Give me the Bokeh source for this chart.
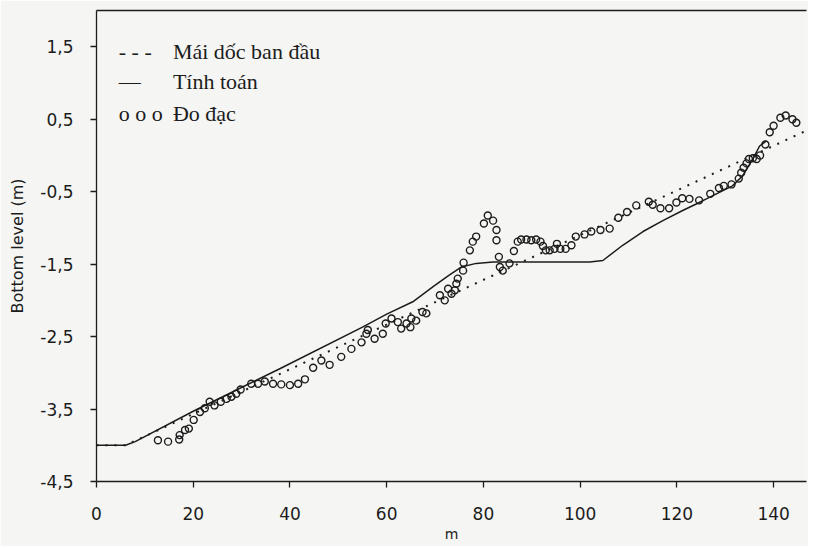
from bokeh.plotting import figure
from bokeh.models import FixedTicker, LinearAxis, Label
from bokeh.embed import file_html
from bokeh.resources import INLINE

# ---- data ----
x_ticks = [0, 20, 40, 60, 80, 100, 120, 140]
y_ticks = [-4.5, -3.5, -2.5, -1.5, -0.5, 0.5, 1.5]
y_tick_labels = ["-4,5", "-3,5", "-2,5", "-1,5", "-0,5", "0,5", "1,5"]

# initial slope (dotted)
initial_x = [0, 6, 148]
initial_y = [-4.0, -4.0, 0.38]

# computed profile (solid)
computed_x = [0, 6, 8, 20, 38, 55, 60, 65.4, 69.6, 73, 75.4, 78.5, 82, 102, 104.7,
              108.8, 113, 117.1, 121.2, 124, 126.1, 131.5, 133.6, 135.7, 137.1, 138.5]
computed_y = [-4.0, -4.0, -3.95, -3.53, -2.94, -2.37, -2.19, -2.02, -1.81, -1.65,
              -1.54, -1.49, -1.47, -1.47, -1.45, -1.24, -1.05, -0.90, -0.76, -0.67,
              -0.60, -0.42, -0.28, -0.05, 0.13, 0.2]

# measured profile (circles)
measured_x = [12.7, 14.8, 17.1, 17.2, 18.3, 19.1, 20.1, 21.4, 22.4, 23.4, 24.4, 25.7,
              26.9, 27.9, 28.9, 29.8, 32.0, 33.4, 34.8, 36.5, 38.2, 40.0, 41.7, 43.1,
              44.8, 46.5, 48.2, 50.6, 52.7, 54.8, 55.8, 56.1, 57.5, 59.2, 59.8, 61.0,
              62.3, 63.0, 64.1, 64.9, 65.1, 66.1, 67.4, 68.2, 71.0, 72.0, 72.7, 73.4,
              74.1, 74.4, 74.7, 75.8, 75.9, 77.2, 77.8, 78.5, 80.1, 80.9, 82.0, 82.7,
              82.7, 83.2, 83.4, 84.0, 85.4, 86.3, 87.1, 87.8, 88.9, 89.9, 90.9, 91.8,
              92.3, 92.9, 93.7, 94.7, 95.2, 95.9, 97.0, 98.2, 99.1, 100.9, 102.3, 104.2,
              106.1, 107.9, 109.7, 111.6, 114.2, 115.0, 116.6, 118.4, 119.9, 121.1,
              122.6, 124.6, 126.9, 128.7, 129.7, 131.3, 132.8, 133.3, 133.8, 134.4,
              134.9, 135.7, 136.5, 137.2, 138.3, 139.2, 140.0, 141.4, 142.5, 143.9,
              144.7]
measured_y = [-3.93, -3.95, -3.92, -3.86, -3.79, -3.77, -3.65, -3.54, -3.49, -3.40,
              -3.45, -3.40, -3.36, -3.33, -3.29, -3.23, -3.15, -3.15, -3.12, -3.15,
              -3.16, -3.17, -3.15, -3.09, -2.93, -2.83, -2.89, -2.78, -2.67, -2.58,
              -2.46, -2.41, -2.53, -2.46, -2.32, -2.25, -2.30, -2.39, -2.32, -2.37,
              -2.25, -2.28, -2.16, -2.18, -1.93, -2.00, -1.84, -1.91, -1.86, -1.77,
              -1.70, -1.59, -1.48, -1.31, -1.19, -1.12, -0.94, -0.83, -0.90, -1.03,
              -1.17, -1.40, -1.54, -1.59, -1.49, -1.32, -1.19, -1.16, -1.16, -1.17,
              -1.16, -1.19, -1.25, -1.31, -1.31, -1.29, -1.22, -1.29, -1.29, -1.24,
              -1.12, -1.09, -1.05, -1.03, -1.01, -0.86, -0.78, -0.69, -0.64, -0.68,
              -0.73, -0.73, -0.65, -0.59, -0.60, -0.62, -0.53, -0.45, -0.42, -0.40,
              -0.32, -0.24, -0.17, -0.11, -0.05, -0.04, -0.05, 0.00, 0.15, 0.32,
              0.41, 0.52, 0.55, 0.50, 0.45]

legend_symbols = ["- - -", "\u2014", "o o o"]
legend_texts = ["M\u00e1i d\u1ed1c ban \u0111\u1ea7u", "T\u00ednh to\u00e1n", "\u0110o \u0111\u1ea1c"]

INK = "#1c1c1c"
PAPER = "#f5f5f3"

p = figure(width=808, height=546, x_range=(0, 146.8), y_range=(-4.5, 2.0),
           output_backend="svg", toolbar_location=None,
           min_border_left=96, min_border_top=10, min_border_right=2, min_border_bottom=65,
           background_fill_color=PAPER, border_fill_color=PAPER)
p.outline_line_color = None
p.grid.visible = False

# lines and points
p.line(initial_x, initial_y, line_color=INK, line_width=2, line_dash="2 7")
p.line(computed_x, computed_y, line_color=INK, line_width=1.5)
p.scatter(measured_x, measured_y, marker="circle", size=7, fill_color=None,
          line_color=INK, line_width=1.4)

# axes
xa = p.xaxis[0]
xa.ticker = FixedTicker(ticks=x_ticks)
xa.axis_label = "m"
ya = p.yaxis[0]
ya.ticker = FixedTicker(ticks=y_ticks)
ya.major_label_overrides = dict(zip(y_ticks, y_tick_labels))
ya.axis_label = "Bottom level (m)"

for ax in (xa, ya):
    ax.axis_line_color = INK
    ax.axis_line_width = 1.3
    ax.major_tick_line_color = INK
    ax.major_tick_line_width = 1.3
    ax.major_tick_in = 0
    ax.major_tick_out = 6
    ax.minor_tick_line_color = None
    ax.major_label_text_font = "DejaVu Sans"
    ax.major_label_text_font_size = "17px"
    ax.major_label_text_color = INK
    ax.axis_label_text_font = "DejaVu Sans"
    ax.axis_label_text_font_style = "normal"
    ax.axis_label_text_color = INK

xa.major_label_standoff = 19
xa.axis_label_text_font_size = "14px"
xa.axis_label_standoff = 3
ya.major_label_standoff = 17
ya.axis_label_text_font_size = "16px"
ya.axis_label_standoff = 10

# top border line
top = LinearAxis(ticker=FixedTicker(ticks=[]), major_label_text_font_size="0px",
                 major_tick_in=0, major_tick_out=0, minor_tick_line_color=None,
                 axis_line_color=INK, axis_line_width=1.3, major_label_standoff=0)
p.add_layout(top, "above")

# legend written as text, as in the original figure
sym_x = 4.6
txt_x = 15.8
rows_y = [1.44, 1.02, 0.58]
for s, t, yy in zip(legend_symbols, legend_texts, rows_y):
    p.add_layout(Label(x=sym_x, y=yy, text=s, text_font="Liberation Serif",
                       text_font_size="22px", text_color=INK, text_baseline="alphabetic"))
    p.add_layout(Label(x=txt_x, y=yy, text=t, text_font="Liberation Serif",
                       text_font_size="22px", text_color=INK, text_baseline="alphabetic"))

open("out.html", "w").write(file_html(p, INLINE))
